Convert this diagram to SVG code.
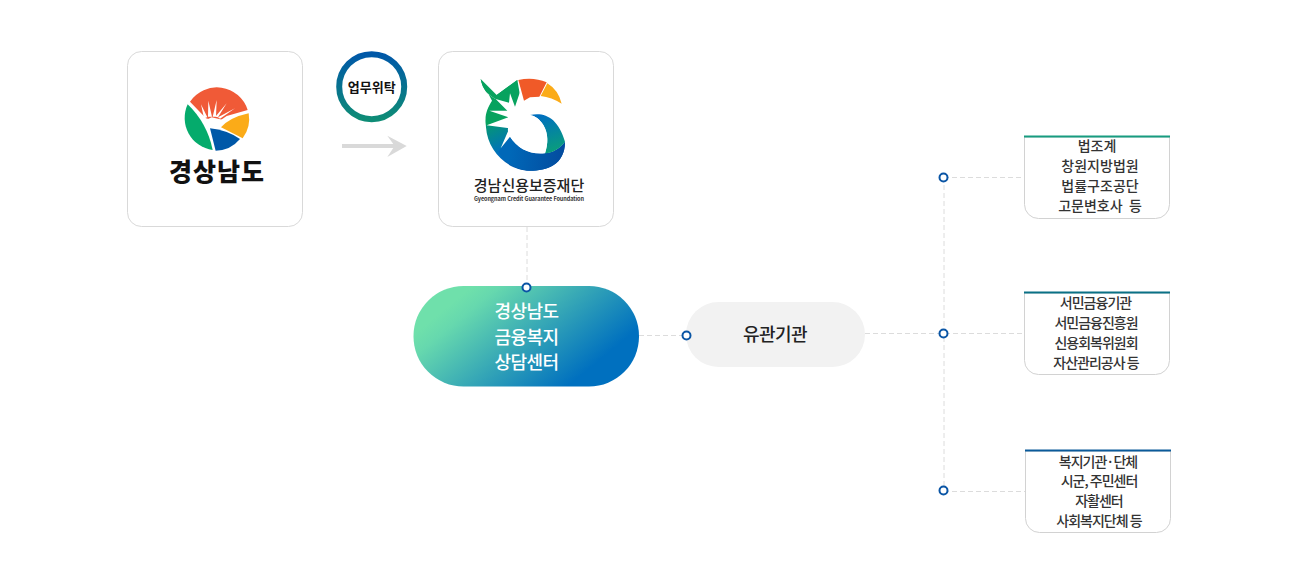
<svg xmlns="http://www.w3.org/2000/svg" width="1300" height="574" viewBox="0 0 1300 574">
<style>
text{font-family:"Noto Sans CJK KR","Liberation Sans",sans-serif;text-anchor:middle}
.card{fill:#fff;stroke:#d9d9d9;stroke-width:1}
.dash{fill:none;stroke:#dcdcdc;stroke-width:1;stroke-dasharray:5 3}
.dot{fill:#fff;stroke:#0a55a5;stroke-width:2}
.side{fill:#fff;stroke:#d2d2d2;stroke-width:1}
.st{font-size:14px;font-weight:500;fill:#333}
.main{font-size:18px;font-weight:500;fill:#fff;letter-spacing:-.5px}
</style>
<defs>
<linearGradient id="ringG" x1="0" y1="0" x2="0" y2="1"><stop offset="0" stop-color="#0058a8"/><stop offset="1" stop-color="#0e8c76"/></linearGradient>
<linearGradient id="pillG" gradientUnits="userSpaceOnUse" x1="480" y1="280" x2="572" y2="392"><stop offset="0" stop-color="#6fe0ab"/><stop offset=".12" stop-color="#66d8ae"/><stop offset=".95" stop-color="#0070bf"/></linearGradient>
<linearGradient id="bodyG" gradientUnits="userSpaceOnUse" x1="200" y1="210" x2="290" y2="390"><stop offset="0" stop-color="#07a25e"/><stop offset=".6" stop-color="#0070bf"/><stop offset="1" stop-color="#034ea2"/></linearGradient>
<linearGradient id="hookG" gradientUnits="userSpaceOnUse" x1="340" y1="225" x2="375" y2="340"><stop offset="0" stop-color="#0070bf"/><stop offset="1" stop-color="#0aa078"/></linearGradient>
<linearGradient id="lowG" gradientUnits="userSpaceOnUse" x1="240" y1="320" x2="405" y2="340"><stop offset="0" stop-color="#0068b8"/><stop offset="1" stop-color="#034b9e"/></linearGradient>
</defs>

<g id="connectors">
<path class="dash" d="M527 227V287"/>
<path class="dash" d="M639 335.500H686"/>
<path class="dash" d="M865 333.500H1024"/>
<path class="dash" d="M944 177V490"/>
<path class="dash" d="M944 177.500H1024"/>
<path class="dash" d="M944 491.500H1025"/>
<polygon points="387.300,135.700 406.700,146 387.300,157 393.300,148 342,148 342,144 393.300,144" fill="#d9d9d9"/>
</g>

<g id="node-gyeongnam">
<rect class="card" x="127.500" y="51.500" width="175" height="175" rx="14"/>
<g transform="translate(120 40) scale(.33333)">
<path d="M210,185A97,97 0 0 1 383,210L320,228L295,245L258,235Z" fill="#f05a37"/>
<path d="M243,193L262,232L252,235ZM265,182L276,230L264,230ZM290,180L288,230L278,230ZM320,190L294,232L286,230ZM345,205L300,236L294,232ZM275,232L310,240L270,262L258,240Z" fill="#fff"/>
<path d="M203,193Q262,250 278,330A97,97 0 0 1 203,193Z" fill="#05ab6c"/>
<path d="M303,262Q330,232 386,220A97,97 0 0 1 368,295Z" fill="#fbab18"/>
<path d="M270,265Q320,270 360,297A97,97 0 0 1 287,332Z" fill="#0058a8"/>
</g>
<text x="217" y="181" font-size="25" font-weight="900" fill="#111" letter-spacing="1">경상남도</text>
</g>

<g id="node-consign">
<circle cx="371.700" cy="86.700" r="32.500" fill="#fff" stroke="url(#ringG)" stroke-width="6"/>
<text x="371.700" y="91.500" font-size="13" font-weight="700" fill="#111">업무위탁</text>
</g>

<g id="node-foundation">
<rect class="card" x="438.500" y="51.500" width="175" height="175" rx="14"/>
<g transform="translate(430 40) scale(.33333)">
<path d="M152,117C158,150 175,165 197,177L190,182C172,205 165,235 168,262C172,330 230,392 300,392C350,392 405,375 405,305C390,325 370,338 345,340C300,345 262,325 240,290C225,270 240,240 250,215L262,120L200,165Z" fill="url(#bodyG)"/>
<path d="M240,290C262,325 300,345 345,340C370,338 390,325 405,305C405,375 350,392 300,392C262,392 225,370 205,335Z" fill="url(#lowG)"/>
<path d="M152,117C158,150 175,165 197,177L200,165L262,120L275,195L230,260L168,255C163,225 172,205 186,182Z" fill="#07a25e"/>
<path d="M300,225C345,215 385,235 405,305C390,325 370,338 345,340C355,310 355,280 340,255C328,236 315,228 300,225Z" fill="url(#hookG)"/>
<path d="M265,120Q310,110 350,127L328,170L300,172L282,182Z" fill="#f05a28"/>
<path d="M352,130Q385,150 395,191Q365,172 332,168Z" fill="#fbab18"/>
<path d="M197,177L237,188L240,160L255,200L272,150L278,195L340,175L300,205L300,225C315,228 328,236 340,255C355,280 355,310 345,340C300,345 262,325 240,290L212,325L238,265L170,256L235,232L178,212L232,212Z" fill="#fff"/>
</g>
<text x="529" y="191" font-size="15" font-weight="500" fill="#222">경남신용보증재단</text>
<text x="529" y="201" font-size="5.500" font-weight="700" fill="#333" font-family="Liberation Sans, sans-serif" textLength="110" lengthAdjust="spacing">Gyeongnam Credit Guarantee Foundation</text>
</g>

<g id="node-center">
<rect x="413.500" y="286" width="225.500" height="100.500" rx="50" fill="url(#pillG)"/>
<text class="main" x="526.500" y="318">경상남도</text>
<text class="main" x="526.500" y="344">금융복지</text>
<text class="main" x="526.500" y="369">상담센터</text>
</g>

<g id="node-related">
<rect x="686" y="302" width="179" height="65" rx="32.500" fill="#f2f2f2"/>
<text x="775" y="341" font-size="18" font-weight="500" fill="#222" letter-spacing="-.5">유관기관</text>
</g>

<g id="dots">
<circle class="dot" cx="526.500" cy="287.500" r="4"/>
<circle class="dot" cx="686.500" cy="335.500" r="4"/>
<circle class="dot" cx="943.500" cy="177.500" r="4"/>
<circle class="dot" cx="943.500" cy="333.500" r="4"/>
<circle class="dot" cx="943.500" cy="490.500" r="4"/>
</g>

<g id="node-legal">
<path class="side" d="M1024.500 137V204.500a14,14 0 0 0 14,14H1155.500a14,14 0 0 0 14,-14V137Z"/>
<path d="M1024 136.500H1170" stroke="#179c80" stroke-width="2"/>
<text class="st" x="1097" y="151">법조계</text>
<text class="st" x="1100" y="171">창원지방법원</text>
<text class="st" x="1100" y="191">법률구조공단</text>
<text class="st" x="1100" y="211" xml:space="preserve">고문변호사  등</text>
</g>

<g id="node-finance">
<path class="side" d="M1024.500 293V360.500a14,14 0 0 0 14,14H1155.500a14,14 0 0 0 14,-14V293Z"/>
<path d="M1024 292.500H1170" stroke="#0a7186" stroke-width="2"/>
<g letter-spacing="-1">
<text class="st" x="1095.500" y="308">서민금융기관</text>
<text class="st" x="1096" y="328">서민금융진흥원</text>
<text class="st" x="1096" y="348">신용회복위원회</text>
<text class="st" x="1096" y="368">자산관리공사 등</text>
</g>
</g>

<g id="node-welfare">
<path class="side" d="M1025.500 451V518.500a14,14 0 0 0 14,14H1156.500a14,14 0 0 0 14,-14V451Z"/>
<path d="M1025 450.500H1171" stroke="#0a5a9a" stroke-width="2"/>
<g letter-spacing="-1">
<text class="st" x="1098" y="467">복지기관·단체</text>
<text class="st" x="1099" y="486">시군, 주민센터</text>
<text class="st" x="1099" y="506">자활센터</text>
<text class="st" x="1099" y="526">사회복지단체 등</text>
</g>
</g>
</svg>
